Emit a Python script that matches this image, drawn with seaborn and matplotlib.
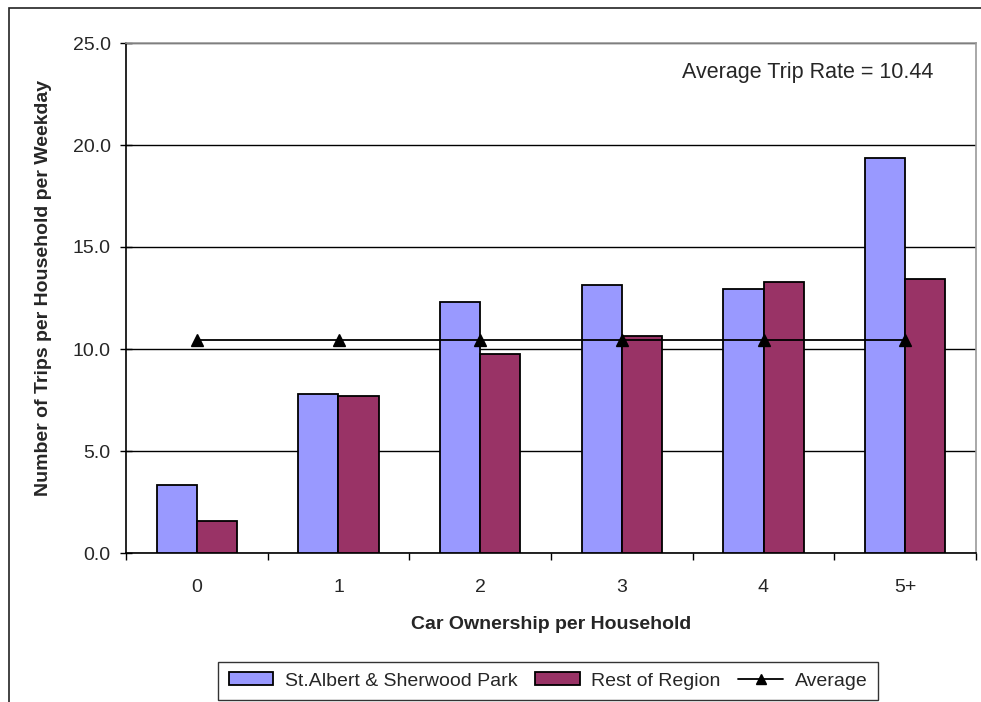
import matplotlib
matplotlib.use("Agg")
import matplotlib.pyplot as plt
from matplotlib.patches import Patch, Rectangle
from matplotlib.lines import Line2D
from matplotlib.ticker import FixedLocator, NullFormatter
import seaborn as sns
import pandas as pd

# Trips per household per weekday by car ownership
cars = ["0", "1", "2", "3", "4", "5+"]
st_albert_sherwood = [3.35, 7.78, 12.28, 13.12, 12.94, 19.34]
rest_of_region = [1.55, 7.69, 9.75, 10.65, 13.28, 13.45]
average_rate = 10.44
average_line = [average_rate] * len(cars)

series_names = ["St.Albert & Sherwood Park", "Rest of Region"]
colors = {"St.Albert & Sherwood Park": "#9999FF", "Rest of Region": "#993366"}

df = pd.DataFrame({
    "cars": cars * 2,
    "trips": st_albert_sherwood + rest_of_region,
    "area": [series_names[0]] * len(cars) + [series_names[1]] * len(cars),
})
df_avg = pd.DataFrame({"cars": cars, "avg": average_line})

sns.set_theme(style="white")
plt.rcParams["font.family"] = ["Liberation Sans", "DejaVu Sans"]

FS = 14

fig = plt.figure(figsize=(9.81, 7.02), dpi=100)
ax = fig.add_axes([126 / 981, 1 - 553 / 702, 850 / 981, 510 / 702])

sns.barplot(data=df, x="cars", y="trips", hue="area", hue_order=series_names,
            order=cars, palette=colors, width=0.565, edgecolor="black",
            linewidth=1.3, saturation=1, legend=False, ax=ax, zorder=3)

sns.pointplot(data=df_avg, x="cars", y="avg", order=cars, color="black",
              markers="^", linestyles="-", markersize=8, linewidth=1.3,
              errorbar=None, ax=ax, zorder=4)

ax.set_xlim(-0.5, len(cars) - 0.5)
ax.set_ylim(0, 25)
yticks = [0, 5, 10, 15, 20, 25]
ax.set_yticks(yticks)
ax.set_yticklabels([f"{v:.1f}" for v in yticks], fontsize=FS)
ax.set_xticks(range(len(cars)))
ax.set_xticklabels(cars, fontsize=FS)
ax.yaxis.grid(True, color="black", linewidth=1)
ax.set_axisbelow(True)

ax.tick_params(axis="x", which="major", length=0, pad=19)
ax.xaxis.set_minor_locator(FixedLocator([i - 0.5 for i in range(len(cars) + 1)]))
ax.xaxis.set_minor_formatter(NullFormatter())
ax.tick_params(axis="x", which="minor", bottom=True, direction="out",
               length=5, width=1, color="black")
ax.tick_params(axis="y", left=True, direction="inout", length=8, width=1,
               color="black", pad=7)

for side in ["left", "bottom"]:
    ax.spines[side].set_color("black")
    ax.spines[side].set_linewidth(1.2)
for side in ["top", "right"]:
    ax.spines[side].set_visible(True)
    ax.spines[side].set_color("#999999")
    ax.spines[side].set_linewidth(1.2)

ax.set_xlabel("Car Ownership per Household", fontsize=FS, fontweight="bold",
              labelpad=14)
ax.set_ylabel("Number of Trips per Household per Weekday", fontsize=FS,
              fontweight="bold")
ax.yaxis.set_label_coords(-0.087, 0.52)

ax.text(0.654, 0.943, f"Average Trip Rate = {average_rate:.2f}",
        transform=ax.transAxes, fontsize=15.5, va="center", ha="left")

handles = [
    Patch(facecolor=colors[series_names[0]], edgecolor="black", linewidth=1.3),
    Patch(facecolor=colors[series_names[1]], edgecolor="black", linewidth=1.3),
    Line2D([], [], color="black", marker="^", markersize=7, linewidth=1.3),
]
leg = fig.legend(handles, series_names + ["Average"], loc="center",
                 bbox_to_anchor=(548 / 981, 1 - 681 / 702), ncol=3,
                 fontsize=FS, frameon=True, fancybox=False, shadow=False,
                 handlelength=2.3, handleheight=0.65, handletextpad=0.6,
                 columnspacing=0.9, borderpad=0.55, borderaxespad=0)
leg.get_frame().set_edgecolor("black")
leg.get_frame().set_linewidth(1)

# Outer chart border
fig.patches.append(Rectangle((8.5 / 981, -0.1), 1.2, 1 - 7.5 / 702 + 0.1,
                             transform=fig.transFigure, fill=False,
                             edgecolor="#222222", linewidth=1.2))

fig.savefig("out.png", dpi=100, facecolor="white")
